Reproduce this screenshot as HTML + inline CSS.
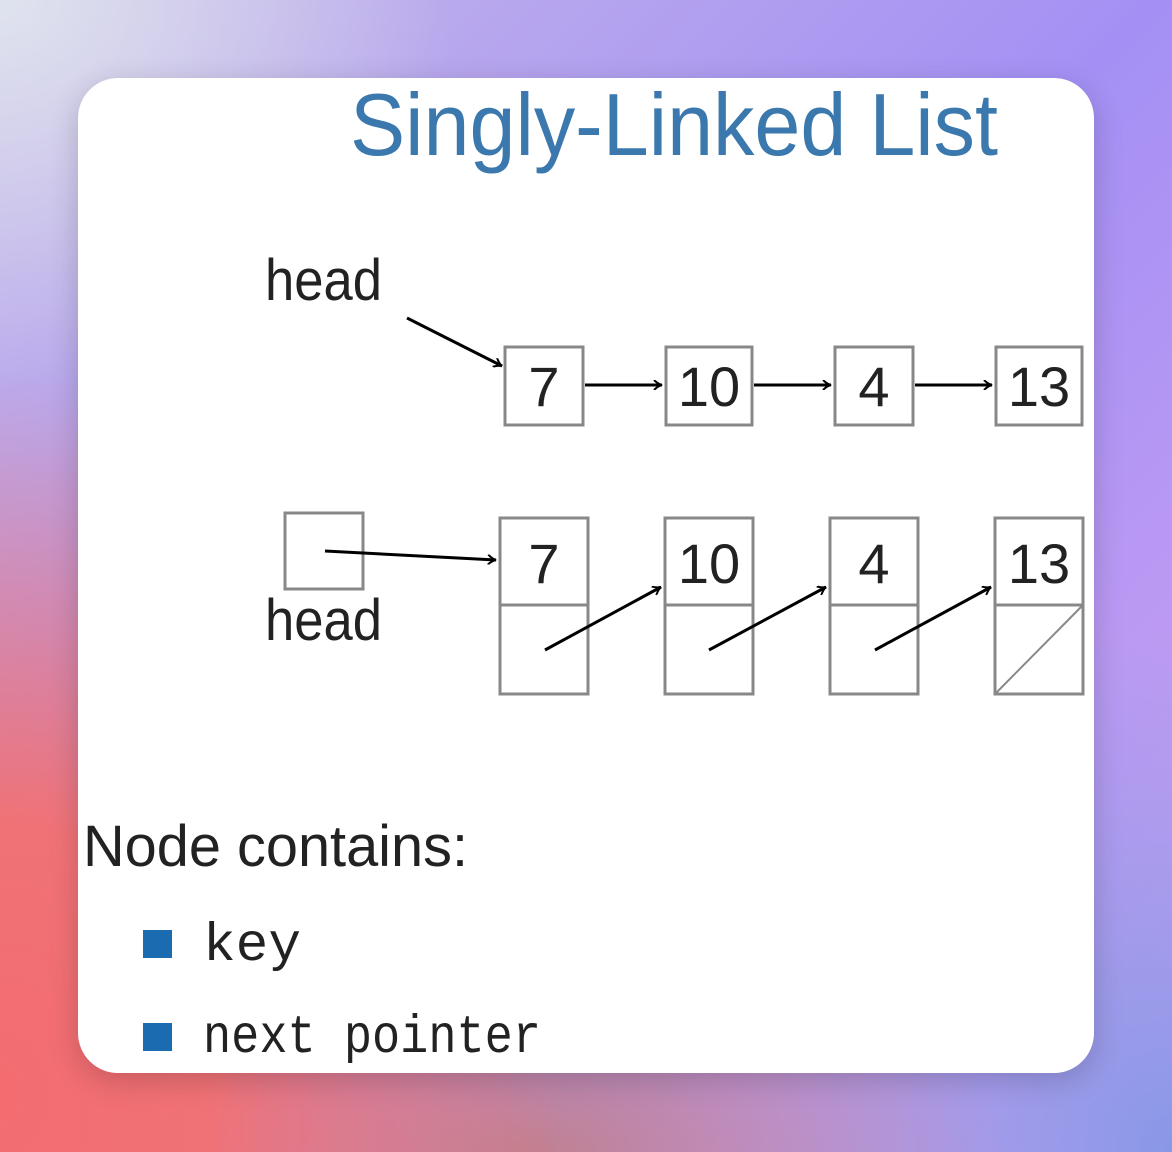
<!DOCTYPE html>
<html><head><style>
html,body{margin:0;padding:0;width:1172px;height:1152px;overflow:hidden}
body{background:
radial-gradient(ellipse 650px 550px at 0% 0%, #dfe3ee 0%, rgba(223,227,238,0) 70%),
radial-gradient(ellipse 700px 900px at 0% 95%, #f36c70 0%, #f07276 30%, rgba(240,114,118,0) 80%),
radial-gradient(ellipse 600px 300px at 45% 100%, #c0808f 0%, rgba(192,128,143,0) 80%),
radial-gradient(ellipse 600px 700px at 100% 100%, #8898e6 0%, rgba(136,152,230,0) 75%),
linear-gradient(135deg,#c6b8e8 0%,#a490f4 50%,#d0a2f2 100%);}
.card{position:absolute;left:78px;top:78px;width:1016px;height:995px;background:#fff;border-radius:40px;box-shadow:0 8px 30px rgba(0,0,0,0.18);overflow:hidden}
svg{position:absolute;left:0;top:0}
</style></head><body>
<div class="card"></div>
<svg width="1172" height="1152" viewBox="0 0 1172 1152" font-family="Liberation Sans, sans-serif">
<defs><marker id="a" markerWidth="10" markerHeight="10" refX="9" refY="5" orient="auto" markerUnits="userSpaceOnUse"><path d="M1,0 Q5,4 9,5 Q5,6 1,10" fill="none" stroke="#000" stroke-width="2"/></marker></defs>
<text x="350" y="155" font-size="88" fill="#3a78ad" textLength="648" lengthAdjust="spacingAndGlyphs">Singly-Linked List</text>
<g font-size="58" fill="#222">
<text x="265" y="300" textLength="117" lengthAdjust="spacingAndGlyphs">head</text>
<text x="265" y="640" textLength="117" lengthAdjust="spacingAndGlyphs">head</text>
</g>
<g fill="none" stroke="#888" stroke-width="3">
<rect x="505" y="347" width="78" height="78"/><rect x="666" y="347" width="86" height="78"/><rect x="835" y="347" width="78" height="78"/><rect x="996" y="347" width="86" height="78"/>
<rect x="285" y="513" width="78" height="76"/>
<rect x="500" y="518" width="88" height="176"/><line x1="500" y1="605" x2="588" y2="605"/>
<rect x="665" y="518" width="88" height="176"/><line x1="665" y1="605" x2="753" y2="605"/>
<rect x="830" y="518" width="88" height="176"/><line x1="830" y1="605" x2="918" y2="605"/>
<rect x="995" y="518" width="88" height="176"/><line x1="995" y1="605" x2="1083" y2="605"/>
<line x1="995" y1="694" x2="1083" y2="605" stroke-width="2"/>
</g>
<g font-size="56" fill="#222" text-anchor="middle">
<text x="544" y="406">7</text><text x="709" y="406">10</text><text x="874" y="406">4</text><text x="1039" y="406">13</text>
<text x="544" y="583">7</text><text x="709" y="583">10</text><text x="874" y="583">4</text><text x="1039" y="583">13</text>
</g>
<g stroke="#000" stroke-width="3" marker-end="url(#a)">
<line x1="407" y1="318" x2="502" y2="366"/>
<line x1="585" y1="385" x2="662" y2="385"/><line x1="754" y1="385" x2="831" y2="385"/><line x1="915" y1="385" x2="992" y2="385"/>
<line x1="325" y1="551" x2="496" y2="560"/>
<line x1="545" y1="650" x2="661" y2="587"/><line x1="709" y1="650" x2="826" y2="587"/><line x1="875" y1="650" x2="991" y2="587"/>
</g>
<text x="83" y="866" font-size="58" fill="#222" textLength="385" lengthAdjust="spacingAndGlyphs">Node contains:</text>
<rect x="143" y="930" width="29" height="28" fill="#1a6bb0"/>
<rect x="143" y="1023" width="29" height="28" fill="#1a6bb0"/>
<g font-family="Liberation Mono, monospace" font-size="54" fill="#222">
<text x="203" y="960" textLength="98" lengthAdjust="spacingAndGlyphs">key</text>
<text x="203" y="1052" textLength="338" lengthAdjust="spacingAndGlyphs">next pointer</text>
</g>
</svg>
</body></html>
